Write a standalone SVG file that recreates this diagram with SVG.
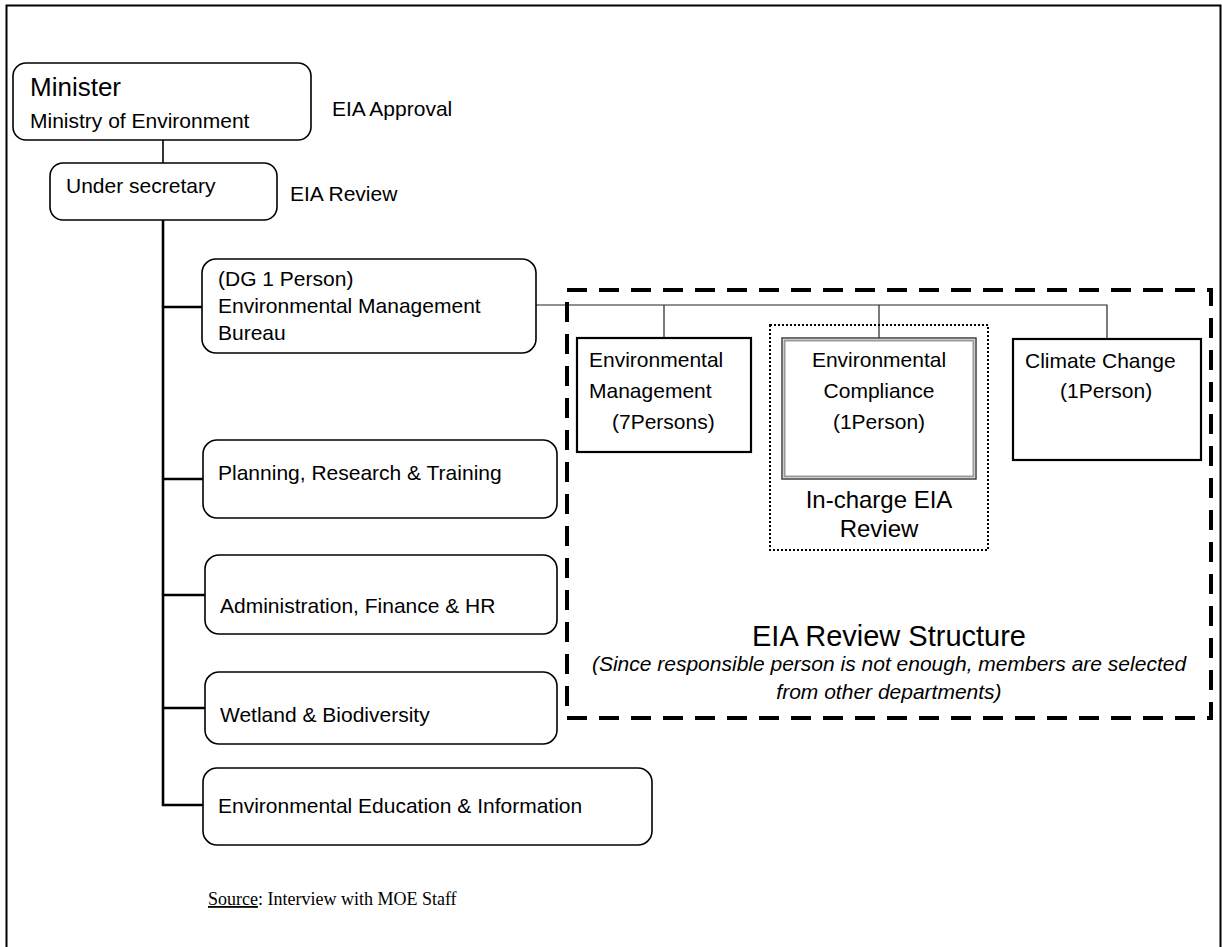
<svg xmlns="http://www.w3.org/2000/svg" width="1222" height="947" viewBox="0 0 1222 947">
<style>
text{font-family:"Liberation Sans",Arial,sans-serif;font-size:21px;fill:#000}
.rb{fill:#fff;stroke:#000;stroke-width:1.6}
.sq{fill:#fff;stroke:#000;stroke-width:2.2}
.c{fill:none;stroke:#000;stroke-width:1.6}
.t{fill:none;stroke:#000;stroke-width:2.6}
.thin{fill:none;stroke:#222;stroke-width:1.2}
.mid{text-anchor:middle}
</style>
<rect x="6.5" y="5.5" width="1214" height="960" fill="#fff" stroke="#000" stroke-width="2"/>
<g id="connectors">
<line class="c" x1="163" y1="140" x2="163" y2="163"/>
<line class="t" x1="163" y1="220" x2="163" y2="806"/>
<line class="t" x1="162" y1="307" x2="202" y2="307"/>
<line class="t" x1="162" y1="479" x2="203" y2="479"/>
<line class="t" x1="162" y1="595" x2="205" y2="595"/>
<line class="t" x1="162" y1="708" x2="205" y2="708"/>
<line class="t" x1="162" y1="805" x2="203" y2="805"/>
<polyline class="thin" points="536,305 1107,305 1107,339"/>
<line class="thin" x1="664" y1="305" x2="664" y2="338"/>
<line class="thin" x1="879" y1="305" x2="879" y2="338"/>
</g>
<g id="eia-structure">
<rect x="567" y="290" width="644" height="428" fill="none" stroke="#000" stroke-width="4" stroke-dasharray="20 12"/>
<text x="889" y="646" class="mid" style="font-size:29px">EIA Review Structure</text>
<text x="889" y="671" class="mid" style="font-style:italic">(Since responsible person is not enough, members are selected</text>
<text x="889" y="699" class="mid" style="font-style:italic">from other departments)</text>
</g>
<g id="minister">
<rect class="rb" x="13" y="63" width="298" height="77" rx="13"/>
<text x="30" y="96" style="font-size:26px">Minister</text>
<text x="30" y="128">Ministry of Environment</text>
</g>
<text id="eia-approval" x="332" y="116">EIA Approval</text>
<g id="under-secretary">
<rect class="rb" x="50" y="163" width="227" height="57" rx="13"/>
<text x="66" y="193">Under secretary</text>
</g>
<text id="eia-review" x="290" y="201">EIA Review</text>
<g id="emb">
<rect class="rb" x="202" y="259" width="334" height="94" rx="14"/>
<text x="218" y="286">(DG 1 Person)</text>
<text x="218" y="313">Environmental Management</text>
<text x="218" y="340">Bureau</text>
</g>
<g id="planning">
<rect class="rb" x="203" y="440" width="354" height="78" rx="14"/>
<text x="218" y="480">Planning, Research &amp; Training</text>
</g>
<g id="admin">
<rect class="rb" x="205" y="555" width="352" height="79" rx="14"/>
<text x="220" y="613">Administration, Finance &amp; HR</text>
</g>
<g id="wetland">
<rect class="rb" x="205" y="672" width="352" height="72" rx="14"/>
<text x="220" y="722">Wetland &amp; Biodiversity</text>
</g>
<g id="education">
<rect class="rb" x="203" y="768" width="449" height="77" rx="14"/>
<text x="218" y="813">Environmental Education &amp; Information</text>
</g>
<g id="env-management">
<rect class="sq" x="577" y="338" width="174" height="114"/>
<text x="589" y="367">Environmental</text>
<text x="589" y="398">Management</text>
<text x="612" y="429">(7Persons)</text>
</g>
<g id="in-charge">
<rect x="770" y="325" width="218" height="225" fill="none" stroke="#000" stroke-width="2" stroke-dasharray="2 2"/>
<text x="879" y="508" class="mid" style="font-size:24px">In-charge EIA</text>
<text x="879" y="537" class="mid" style="font-size:24px">Review</text>
</g>
<g id="env-compliance">
<rect x="782" y="338" width="194" height="141" fill="#fff" stroke="#333" stroke-width="1.4"/>
<rect x="784.5" y="340.5" width="189" height="136" fill="none" stroke="#999" stroke-width="2"/>
<text x="879" y="367" class="mid">Environmental</text>
<text x="879" y="398" class="mid">Compliance</text>
<text x="879" y="429" class="mid">(1Person)</text>
</g>
<g id="climate">
<rect class="sq" x="1013" y="339" width="188" height="121"/>
<text x="1025" y="368">Climate Change</text>
<text x="1060" y="398">(1Person)</text>
</g>
<g id="source">
<text x="208" y="905" style="font-family:'Liberation Serif','Times New Roman',serif;font-size:18px"><tspan text-decoration="underline">Source</tspan>:  Interview with MOE Staff</text>
</g>
</svg>
